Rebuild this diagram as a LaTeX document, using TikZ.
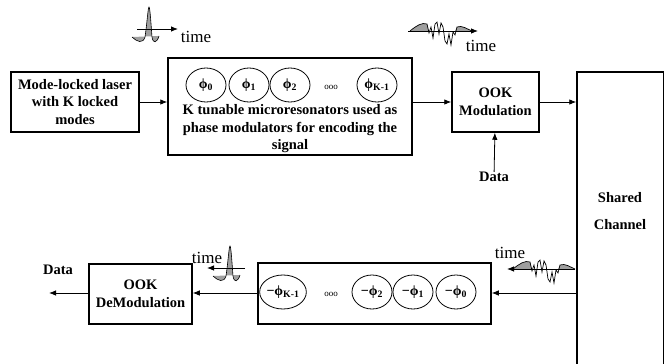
\documentclass[tikz,border=0pt]{standalone}
\usepackage{fontspec}
\setmainfont{Liberation Serif}
\usepackage{tikz}
\usetikzlibrary{positioning, arrows.meta, shapes.geometric}
\tikzset{
    blockbox/.style={draw, line width=1.5pt, inner sep=0pt, align=center, font=\fontsize{14.5}{17.5}\selectfont\bfseries},
    plaintxt/.style={inner sep=0pt, align=center, font=\fontsize{14.5}{17.5}\selectfont\bfseries},
    phase/.style={ellipse, draw, line width=0.8pt, inner sep=0pt, minimum width=40pt, minimum height=34pt, font=\fontsize{14}{16}\selectfont\bfseries},
    dots/.style={inner sep=0pt, font=\fontsize{9}{10}\selectfont},
    timetxt/.style={inner sep=0pt, font=\fontsize{17}{19}\selectfont},
    link/.style={line width=0.8pt, -{Latex[length=7pt,width=5.5pt]}},
    timeaxis/.style={line width=0.8pt, -{Latex[length=7pt,width=5.5pt]}},
    pulse/.pic={
        \filldraw[fill=gray!75, draw=black, line width=0.6pt] (-17,8) .. controls (-12,13) and (-6,15) .. (-4,8)
            .. controls (-2,-5) and (-1,-22) .. (0,-22) .. controls (1,-22) and (2,-5) .. (3,8)
            .. controls (4,15) and (8,14) .. (10,7);
    },
    burst/.pic={
        \fill[gray!75] (0,0) .. controls (6,-5) and (12,-9) .. (17,-7) -- (19,0) -- cycle;
        \fill[gray!75] (45,0) -- (47,-4) .. controls (52,-6) and (57,-2) .. (62,0) -- cycle;
        \draw[line width=0.7pt] (0,0) .. controls (6,-5) and (12,-9) .. (17,-7) -- (19,2) -- (21,-4) -- (23,7)
            -- (25,-7) -- (27,-9) -- (29,3) -- (31,-8) -- (33,-4) -- (35,10) -- (37,13) -- (39,3) -- (41,14)
            -- (43,1) -- (45,4) -- (47,-4) .. controls (52,-6) and (57,-2) .. (62,0);
    }
}

\begin{document}
\begin{tikzpicture}[x=1pt, y=-1pt]
    \useasboundingbox (0,0) rectangle (664,364);

    \node[blockbox, minimum width=128pt, minimum height=60pt] (laser) at (75,102) {Mode-locked laser\\with K locked\\modes};
    \node[blockbox, minimum width=244pt, minimum height=97pt] (enc) at (290,106.5) {};
    \node[plaintxt] (enctxt) at (290,129) {K tunable microresonators used as\\phase modulators for encoding the\\signal};
    \node[phase] (p0) at (206,85) {ϕ\textsubscript{0}};
    \node[phase] (p1) at (249,85) {ϕ\textsubscript{1}};
    \node[phase] (p2) at (290,85) {ϕ\textsubscript{2}};
    \node[dots] (pdots) at (331,87) {ooo};
    \node[phase] (pk) at (377,85) {ϕ\textsubscript{K-1}};
    \node[blockbox, minimum width=87pt, minimum height=60pt] (mod) at (495.5,102) {OOK\\Modulation};
    \node[plaintxt] (datain) at (494,177) {Data};
    \node[draw, line width=1.5pt, minimum width=86.5pt, minimum height=298pt] (chan) at (620.25,221) {};
    \node[plaintxt] (chantxt) at (620,211) {Shared\\[9pt]Channel};

    \node[blockbox, minimum width=233pt, minimum height=61pt] (dec) at (374.5,293.5) {};
    \node[phase] (m0) at (456,292) {−ϕ\textsubscript{0}};
    \node[phase] (m1) at (413,292) {−ϕ\textsubscript{1}};
    \node[phase] (m2) at (372,292) {−ϕ\textsubscript{2}};
    \node[dots] (mdots) at (331,294) {ooo};
    \node[phase] (mk) at (283,292) {−ϕ\textsubscript{K-1}};
    \node[blockbox, minimum width=103pt, minimum height=60pt] (demod) at (140.5,294) {OOK\\DeModulation};
    \node[plaintxt] (dataout) at (58,270) {Data};
    \coordinate (out) at (49,293);

    \draw[link] (laser) -- (laser -| enc.west);
    \draw[link] (enc.east |- mod) -- (mod);
    \draw[link] (datain) -- (mod);
    \draw[link] (mod) -- (mod -| chan.west);
    \draw[link] (chan.west |- 0,293) -- (dec.east |- 0,293);
    \draw[link] (dec.west |- 0,293) -- (demod.east |- 0,293);
    \draw[link] (demod.west |- out) -- (out);

    \pic at (149,29) {pulse};
    \draw[timeaxis] (137,29) -- (178,29);
    \node[timetxt] (t1) at (196,37) {time};
    \pic at (410,31) {burst};
    \draw[timeaxis] (408,31) -- (478,31);
    \node[timetxt] (t2) at (481,46) {time};
    \pic at (513,269) {burst};
    \draw[timeaxis] (575,269) -- (507,269);
    \node[timetxt] (t3) at (510,253) {time};
    \pic at (230,268) {pulse};
    \draw[timeaxis] (245,268) -- (207,268);
    \node[timetxt] (t4) at (207,258) {time};
\end{tikzpicture}
\end{document}
